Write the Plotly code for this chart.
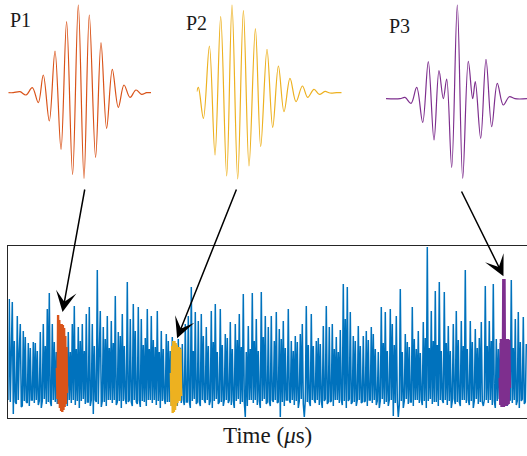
import numpy as np
import plotly.graph_objects as go

# ---------------- data ----------------
# Pulse waveforms (extrema), time in a.u., amplitude in a.u.
p1_t = [0, 5, 11.7, 17.7, 24, 30, 35, 41, 46.7, 52.7, 58.3, 64.3, 70, 75.7, 81, 87.3,
        92.7, 98.3, 104, 110, 115.7, 121.7, 127.7, 133.3, 138.3, 142.7]
p1_a = [0, 0, 1, -2.3, 5, -10, 17.7, -28.3, 41.7, -56.7, 71, -81.7, 87.7, -85.7, 77.7, -64.7,
        50, -35.7, 23.3, -14.7, 7.7, -4.7, 2.7, -1.7, 0, 0]

p2_t = [0, 1.7, 6.7, 12.7, 18.3, 24, 30, 35.3, 41, 46.7, 52.3, 58.7, 64, 70.3, 76, 81.7,
        87.3, 93.3, 99.3, 105.7, 111, 117.3, 122.7, 128.3, 133.3, 140, 145]
p2_a = [1, 5.3, -25.7, 46.7, -62.3, 76, -83.3, 87.7, -86.3, 82, -73.3, 64, -54, 43.3, -34.7, 26.7,
        -19, 14.3, -9, 6.7, -4.7, 3.3, -1.7, 1.3, -0.3, 0, 0]

p3_t = [0, 14, 19, 25, 30.7, 36.7, 42.3, 48, 53, 57.3, 60.7, 65.7, 71.3, 76.7, 82.3, 86.7,
        89.3, 94.7, 100, 105.7, 111.3, 117.3, 123.3, 129, 141]
p3_a = [0, 0, 1.3, -4.7, 11.3, -23.7, 37, -41.3, 28, 0, 19.7, -68.7, 93.7, -79.7, 37.3, 0,
        17, -39.7, 39.3, -28, 15.3, -6.3, 2, 0, 0]

# Recorded signal (mV), sampled every 0.5 us starting at 0 us
noise_dt = 0.5
noise_mv = [
    -22, 79, -24, 29, 76, -36, 37, -24, -26, 62, -22, 27, 54, -29, -28, 47, -23, 41, -24, -25,
    35, -28, 30, -22, -22, 36, -25, 35, -22, 27, -27, -23, 46, -30, -23, 54, -21, 32, -26, 69,
    -24, 85, -24, -28, 54, -22, 36, -24, 26, -26, 33, -22, 40, -29, 29, -23, 38, -24, 31, -28,
    46, -22, 26, -25, 54, -22, 72, -27, 29, -23, 51, -30, 37, -23, 54, -21, 27, -26, 64, -24,
    -24, 71, -28, -22, 54, -36, 32, -22, -24, 108, -26, 25, 67, -29, -23, 51, -24, 39, -28, 62,
    -22, 30, -22, 57, -25, 35, -22, 82, -27, -24, 46, -23, 42, -30, 64, -23, 32, -21, -26, 96,
    -24, -22, 59, -24, -28, 74, -22, 47, -24, -26, 71, -22, -29, 59, -23, 33, -24, 40, -28, 69,
    -22, 29, -22, 62, -25, 38, -22, 31, -27, 67, -23, 26, -30, 47, -23, 29, -21, -26, 44, -24,
    37, -24, 27, -28, 41, -22, 32, -24, 25, -28, 39, -22, 30, -25, 34, -22, -27, 54, -24, -24,
    62, -23, -30, 91, -23, 27, -21, 66, -26, -24, 57, -24, -28, 64, -22, 42, -22, -25, 51, -22,
    32, -27, -23, 67, -30, 36, -23, 74, -21, 26, -26, -24, 69, -24, 33, -28, -22, 44, -22, 40,
    -25, -22, 56, -27, 29, -23, -30, 54, -23, 38, -21, 64, -26, 31, -24, 84, -24, -39, 26, -28,
    52, -22, 29, -22, 85, -25, 37, -22, 59, -27, 27, -23, -30, 86, -23, 41, -21, 62, -26, -24,
    51, -24, -28, 62, -22, -24, 37, -22, 66, -25, -24, 49, -39, 39, -24, 57, -28, 30, -22, -22,
    69, -22, -25, 37, -22, 27, -27, 42, -23, 36, -30, -23, 44, -21, 54, -26, -39, -22, 72, -24,
    33, -24, -28, 64, -22, 32, -22, -25, 37, -22, 40, -27, 34, -23, -30, 52, -23, -21, 72, -26,
    -24, 51, -24, -23, 54, -28, 29, -22, 41, -22, 26, -25, 48, -22, -27, 94, -23, 59, -30, 91,
    -23, -21, 66, -26, -24, 42, -24, 37, -28, -22, 52, -22, 32, -25, -24, 42, -24, -23, 47, -28,
    38, -22, -22, 51, -25, 44, -22, 29, -27, -23, 26, -30, -23, 71, -21, 35, -26, 66, -24, 27,
    -28, -22, 69, -22, 54, -38, 33, -25, 62, -22, -39, -27, 89, -23, 26, -30, -23, 44, -21, 36,
    -26, 31, -24, -24, 71, -28, 39, -22, 29, -22, 47, -25, 25, -22, -27, 56, -23, 40, -30, 131,
    -23, 30, -21, 67, -26, 37, -24, 87, -24, 33, -28, 96, -22, 27, -22, -25, 86, -22, 35, -27,
    52, -23, 27, -30, -23, 54, -21, -26, 67, -24, 38, -24, -28, 57, -22, 32, -22, 108, -25, 29,
    -22, -27, 57, -23, 36, -30, -23, 49, -21, 30, -26, 40, -24, 56, -24, -28, -22, 92, -22, 32,
    -25, 57, -22, 37, -27, 94, -23, -30, 39, -23, 29, -21, 35, -26, 31, -24, 38, -24, 27, -28,
    33, -22, -22, 98, -25, 30, -22, 59, -27, -23, 66, -30, 36, -23, -21, 61, -26, -24, 34,
]

# Highlighted pulse occurrences within the signal (onset in us, 0.3 us sampling, mV)
seg_dt = 0.3
seg1_onset = 24.3
seg1_mv = [10, -21, 63, -26, 58, -30, 54, -33, 54, -34, 53, -32, 50, -29, 42, -26, 31, -15]
seg2_onset = 81.3
seg2_mv = [5, -28, 32, -35, 37, -34, 37, -32, 35, -28, 33, -25, 31, -23, 31, -23, 29, -18]
seg3_onset = 245.7
seg3_mv = [0, -27, 39, -29, 39, -29, 99, -29, 99, -28, 39, -28, 39, -27, 39, -26, 38, -10]

labels = ["P1", "P2", "P3"]
colors = ["#D95319", "#EDB120", "#7E2F8E"]
blue = "#0072BD"

# ---------------- figure ----------------
W, H = 527, 456
fig = go.Figure()

noise_t = np.arange(len(noise_mv)) * noise_dt
fig.add_trace(go.Scatter(x=noise_t, y=noise_mv, mode="lines",
                         line=dict(color=blue, width=1.5), xaxis="x", yaxis="y"))

segs = [(seg1_onset, seg1_mv), (seg2_onset, seg2_mv), (seg3_onset, seg3_mv)]
for (on, v), c in zip(segs, colors):
    t = on + np.arange(len(v)) * seg_dt
    fig.add_trace(go.Scatter(x=t, y=v, mode="lines", line=dict(color=c, width=2.4),
                             xaxis="x", yaxis="y"))

pulses = [(p1_t, p1_a), (p2_t, p2_a), (p3_t, p3_a)]
for k, ((t, a), c) in enumerate(zip(pulses, colors)):
    fig.add_trace(go.Scatter(x=t, y=a, mode="lines",
                             line=dict(color=c, width=1.2, shape="spline", smoothing=1.0),
                             xaxis=f"x{k+2}", yaxis=f"y{k+2}", cliponaxis=False))

def px_x(p):
    return p / W

def px_y(p):
    return 1 - p / H

hidden = dict(visible=False, fixedrange=True)
fig.update_layout(
    width=W, height=H, margin=dict(l=0, r=0, t=0, b=0),
    paper_bgcolor="white", plot_bgcolor="white", showlegend=False,
    font=dict(family="Liberation Serif", color="#1a1a1a"),
    xaxis=dict(domain=[px_x(8.3), 1.0], range=[0, 259.35], showgrid=False, zeroline=False,
               showticklabels=False, ticks="", showline=True, mirror=True,
               linecolor="#262626", linewidth=1,
               title=dict(text="Time (<i>μ</i>s)", font=dict(size=23, family="Liberation Serif"),
                          standoff=8)),
    yaxis=dict(domain=[px_y(418), px_y(246)], range=[-40, 132], showgrid=False,
               zeroline=False, showticklabels=False, ticks="", showline=True, mirror=False,
               linecolor="#262626", linewidth=1),
    xaxis2=dict(domain=[px_x(8.3), px_x(151)], range=[0, 142.7], anchor="y2", **hidden),
    yaxis2=dict(domain=[px_y(182.7), px_y(2.7)], range=[-90, 90], anchor="x2", **hidden),
    xaxis3=dict(domain=[px_x(196.7), px_x(341.7)], range=[0, 145], anchor="y3", **hidden),
    yaxis3=dict(domain=[px_y(182.7), px_y(2.7)], range=[-90, 90], anchor="x3", **hidden),
    xaxis4=dict(domain=[px_x(386), 1.0], range=[0, 141], anchor="y4", **hidden),
    yaxis4=dict(domain=[px_y(193.7), px_y(3.7)], range=[-95, 95], anchor="x4", **hidden),
)

# Pulse labels
label_pos = [(8, 20), (184, 23), (387, 26)]
for lab, (lx, ly) in zip(labels, label_pos):
    fig.add_annotation(text=lab, xref="paper", yref="paper", x=px_x(lx), y=px_y(ly),
                       xanchor="left", yanchor="middle", showarrow=False,
                       font=dict(size=20, family="Liberation Serif", color="#1a1a1a"))

# Arrows from each pulse to its occurrence in the signal
tail_offsets = [(23, -127), (61, -153), (-44, -89)]
for (on, v), (ax, ay) in zip(segs, tail_offsets):
    t = on + np.arange(len(v)) * seg_dt
    fig.add_annotation(x=float(t.mean()), y=float(max(v)), xref="x", yref="y",
                       ax=ax, ay=ay, axref="pixel", ayref="pixel", text="",
                       showarrow=True, arrowhead=3, arrowsize=2.3, arrowwidth=1.5,
                       arrowcolor="black", standoff=3)

fig.write_html(
    "out.html",
    config={"displayModeBar": False},
    post_script="document.body.style.margin='0px';document.body.style.overflow='hidden';",
)
